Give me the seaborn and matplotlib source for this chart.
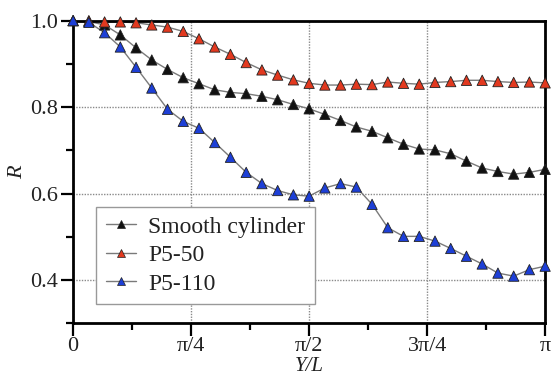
import numpy as np
import pandas as pd
import matplotlib
matplotlib.use("Agg")
import matplotlib.pyplot as plt
from matplotlib.lines import Line2D
from matplotlib.ticker import FixedLocator
import seaborn as sns

# ---- data ----
n_points = 31
x_fraction = [i / 30 for i in range(n_points)]  # Y/L as fraction of pi

smooth = [1.000, 0.998, 0.990, 0.967, 0.937, 0.909, 0.887, 0.868, 0.854, 0.840,
          0.834, 0.831, 0.825, 0.817, 0.806, 0.796, 0.783, 0.769, 0.754, 0.744,
          0.729, 0.714, 0.703, 0.701, 0.692, 0.675, 0.659, 0.651, 0.645, 0.649,
          0.656]
p5_50 = [1.000, 1.000, 0.997, 0.997, 0.995, 0.990, 0.985, 0.975, 0.958, 0.939,
         0.922, 0.903, 0.886, 0.874, 0.863, 0.855, 0.851, 0.851, 0.853, 0.852,
         0.858, 0.855, 0.853, 0.857, 0.859, 0.862, 0.862, 0.859, 0.857, 0.858,
         0.856]
p5_110 = [1.000, 0.996, 0.972, 0.939, 0.892, 0.844, 0.795, 0.767, 0.751, 0.718,
          0.684, 0.649, 0.623, 0.607, 0.597, 0.594, 0.613, 0.623, 0.615, 0.575,
          0.521, 0.501, 0.501, 0.490, 0.473, 0.455, 0.437, 0.416, 0.409, 0.424,
          0.432]

series_names = ["Smooth cylinder", "P5-50", "P5-110"]
series_values = [smooth, p5_50, p5_110]
series_colors = ["#111111", "#e2391f", "#1d3fd6"]

x_tick_labels = ["0", "π/4", "π/2", "3π/4", "π"]
y_tick_values = [0.4, 0.6, 0.8, 1.0]

rows = []
for name, vals in zip(series_names, series_values):
    for xf, v in zip(x_fraction, vals):
        rows.append({"x": xf * np.pi, "R": v, "series": name})
df = pd.DataFrame(rows)

# ---- figure ----
sns.set_theme(style="white")
plt.rcParams["font.family"] = ["Liberation Serif", "DejaVu Serif"]

fig = plt.figure(figsize=(5.54, 3.75), dpi=100)
ax = fig.add_axes([0.132, 0.138, 0.852, 0.807])

# connecting lines (gray)
sns.lineplot(data=df, x="x", y="R", units="series", estimator=None,
             color="#7a7a7a", linewidth=1.0, ax=ax, legend=False, zorder=2)
# triangle markers
palette = dict(zip(series_names, series_colors))
sns.scatterplot(data=df, x="x", y="R", hue="series", palette=palette,
                marker="^", s=55, edgecolor="#222222", linewidth=0.6,
                ax=ax, legend=False, zorder=3, clip_on=False)

ax.set_xlim(0, np.pi)
ax.set_ylim(0.3, 1.0)

ax.xaxis.set_major_locator(FixedLocator([k * np.pi / 4 for k in range(5)]))
ax.set_xticklabels(x_tick_labels)
ax.xaxis.set_minor_locator(FixedLocator([(2 * k + 1) * np.pi / 8 for k in range(4)]))
ax.yaxis.set_major_locator(FixedLocator(y_tick_values))
ax.set_yticklabels([f"{v:.1f}" for v in y_tick_values])
ax.yaxis.set_minor_locator(FixedLocator([0.3, 0.5, 0.7, 0.9]))

ax.tick_params(axis="both", which="major", direction="out", length=9, width=1.6,
               labelsize=16, color="black", labelcolor="#222222", pad=2,
               bottom=True, left=True)
ax.tick_params(axis="x", which="major", pad=1)
ax.tick_params(axis="both", which="minor", direction="out", length=5, width=1.6,
               color="black", bottom=True, left=True)

ax.grid(True, which="major", linestyle=(0, (1, 1)), color="#8a8a8a", linewidth=1.0)
ax.set_axisbelow(True)
for sp in ax.spines.values():
    sp.set_visible(True)
    sp.set_color("black")
    sp.set_linewidth(2.0)

ax.set_xlabel("Y/L", fontsize=15, fontstyle="italic", labelpad=0.5, color="#222222")
ax.set_ylabel("R", fontsize=16, fontstyle="italic", labelpad=2, color="#222222")

handles = [Line2D([0], [0], color="#7a7a7a", linewidth=1.0, marker="^",
                  markersize=5.5, markerfacecolor=c, markeredgecolor="#222222",
                  markeredgewidth=0.5) for c in series_colors]
leg = ax.legend(handles, series_names, loc="lower left",
                bbox_to_anchor=(0.049, 0.063), fontsize=17, frameon=True,
                fancybox=False, edgecolor="#999999", framealpha=1,
                handlelength=1.3, handletextpad=0.5, labelspacing=0.3,
                borderpad=0.4, borderaxespad=0)
leg.get_frame().set_linewidth(1.0)
for t in leg.get_texts():
    t.set_color("#222222")

fig.savefig("out.png", dpi=100)
